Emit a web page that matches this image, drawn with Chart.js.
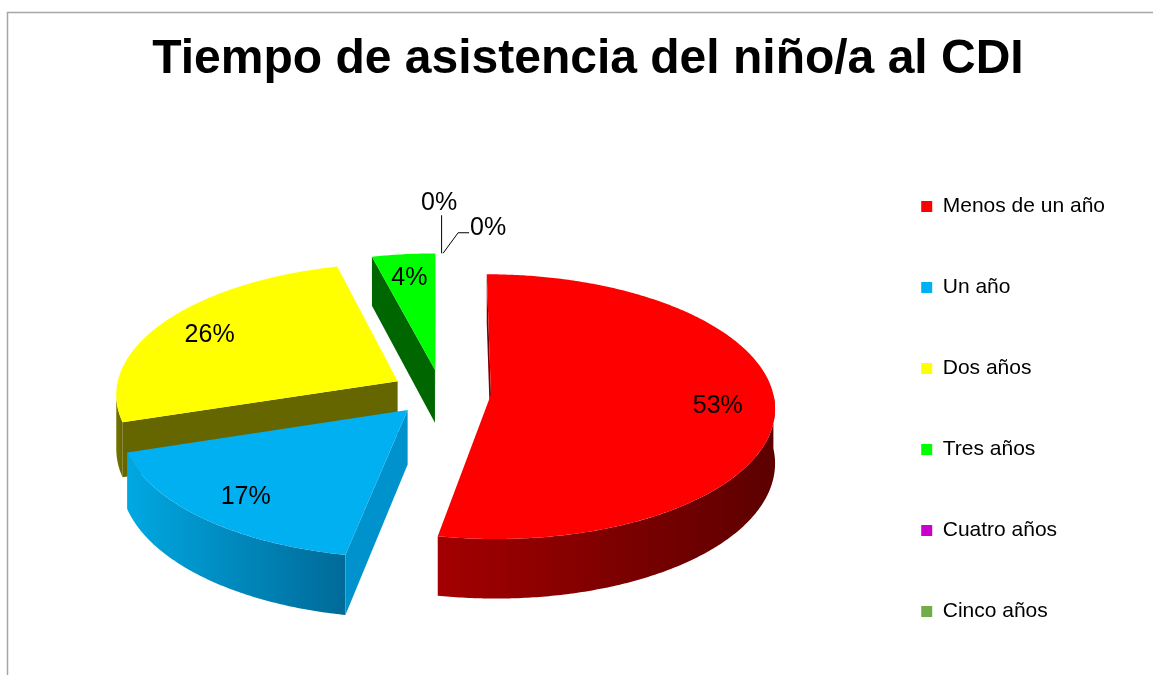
<!DOCTYPE html>
<html lang="es">
<head>
  <meta charset="UTF-8" />
  <title>Tiempo de asistencia del niño/a al CDI</title>
  <script src="https://cdn.jsdelivr.net/npm/chart.js"></script>
  <style>
    body {
      margin: 0;
      background: #ffffff;
    }
    #chart {
      display: block;
    }
  </style>
</head>
<body>

<canvas id="chart" width="1153" height="675"></canvas>

<script>
  // data
  const categories = ['Menos de un año', 'Un año', 'Dos años', 'Tres años', 'Cuatro años', 'Cinco años'];
  const percentages = [53, 17, 26, 4, 0, 0];
  const topColors = ['#ff0000', '#00b0f0', '#ffff00', '#00ff00', '#cc00cc', '#70ad47'];

  // 3d look (style only)
  const wallColors = [['#a30000', '#5c0000'], ['#00a8e2', '#006a98'], ['#747400', '#666600'], ['#007000', '#006000'], ['#800080', '#600060'], ['#4a7a2e', '#3a6022']];
  const cutColors = ['#7a0000', '#0092cc', '#666600', '#006600', '#880088', '#4a7a2e'];
  const EXPLODE = 50;     // slice explosion in plane units
  const TILT = 0.464;     // vertical squash of the pie plane
  const FOCAL = 3076;     // perspective distance
  const DEPTH = 54;       // extrusion height
  const PIE_DX = -20;     // nudge pie left of the plot-area centre
  const LABEL_R = 0.8;
  const FONT = "'Liberation Sans', Arial, sans-serif";

  function projector(chart) {
    const arcs = chart.getDatasetMeta(0).data;
    const cx = arcs[0].x + PIE_DX;
    const cy = arcs[0].y;
    return (u, v, h) => {
      const s = FOCAL / (FOCAL - v);
      return [cx + u * s, cy + (v * TILT + h) * s];
    };
  }

  function sliceGeom(arc) {
    const a0 = arc.startAngle, a1 = arc.endAngle;
    const mid = (a0 + a1) / 2;
    return {
      a0, a1, mid,
      r: arc.outerRadius,
      ou: Math.cos(mid) * EXPLODE,
      ov: Math.sin(mid) * EXPLODE
    };
  }

  function fillPoly(ctx, pts, style) {
    ctx.beginPath();
    pts.forEach((p, i) => i ? ctx.lineTo(p[0], p[1]) : ctx.moveTo(p[0], p[1]));
    ctx.closePath();
    ctx.fillStyle = style;
    ctx.fill();
  }

  const pie3d = {
    id: 'pie3d',
    beforeDraw(chart) {
      // thin grey frame like the spreadsheet chart border
      const ctx = chart.ctx;
      ctx.save();
      ctx.strokeStyle = '#a6a6a6';
      ctx.lineWidth = 1.5;
      ctx.beginPath();
      ctx.moveTo(7.5, chart.height);
      ctx.lineTo(7.5, 12.5);
      ctx.lineTo(chart.width, 12.5);
      ctx.stroke();
      ctx.restore();
    },
    beforeDatasetsDraw(chart) {
      const ctx = chart.ctx;
      const P = projector(chart);
      const arcs = chart.getDatasetMeta(0).data;
      const order = arcs.map((arc, i) => i)
        .filter(i => arcs[i].endAngle - arcs[i].startAngle > 0)
        .sort((a, b) => sliceGeom(arcs[a]).ov - sliceGeom(arcs[b]).ov);

      ctx.save();
      order.forEach(i => {
        const g = sliceGeom(arcs[i]);
        const at = (t, h, k) => P(g.ou + g.r * k * Math.cos(t), g.ov + g.r * k * Math.sin(t), h);
        const steps = t0 => Math.max(2, Math.ceil(Math.abs(t0) / 0.01));

        // outer wall, front half only
        const lo = Math.max(g.a0, 0), hi = Math.min(g.a1, Math.PI - 0.1);
        if (hi > lo) {
          const n = steps(hi - lo);
          const pts = [];
          for (let j = 0; j <= n; j++) pts.push(at(lo + (hi - lo) * j / n, 0, 1));
          for (let j = n; j >= 0; j--) pts.push(at(lo + (hi - lo) * j / n, DEPTH, 1));
          const xs = pts.map(p => p[0]);
          const grad = ctx.createLinearGradient(Math.min(...xs), 0, Math.max(...xs), 0);
          grad.addColorStop(0, wallColors[i][0]);
          grad.addColorStop(1, wallColors[i][1]);
          fillPoly(ctx, pts, grad);
        }

        // radial cut faces, when facing the viewer
        [[g.a0, g.a0 - Math.PI / 2], [g.a1, g.a1 + Math.PI / 2]].forEach(([t, n]) => {
          const pu = g.ou + g.r / 2 * Math.cos(t), pv = g.ov + g.r / 2 * Math.sin(t);
          const vis = Math.cos(n) * (0 - pu) + Math.sin(n) * (FOCAL - pv);
          if (vis <= 0) return;
          fillPoly(ctx, [at(t, 0, 0), at(t, 0, 1), at(t, DEPTH, 1), at(t, DEPTH, 0)], cutColors[i]);
        });

        // top face
        const n = steps(g.a1 - g.a0);
        const top = [at(0, 0, 0)];
        for (let j = 0; j <= n; j++) top.push(at(g.a0 + (g.a1 - g.a0) * j / n, 0, 1));
        fillPoly(ctx, top, topColors[i]);
      });
      ctx.restore();
      return false;
    },
    afterDraw(chart) {
      const ctx = chart.ctx;
      const P = projector(chart);
      const arcs = chart.getDatasetMeta(0).data;
      const values = chart.data.datasets[0].data;
      ctx.save();
      ctx.font = '25px ' + FONT;
      ctx.fillStyle = '#000';
      ctx.strokeStyle = '#000';
      ctx.lineWidth = 1;
      ctx.textBaseline = 'middle';
      let zeroCount = 0;
      arcs.forEach((arc, i) => {
        const g = sliceGeom(arc);
        const text = values[i] + '%';
        if (values[i] > 0) {
          const p = P(g.ou + g.r * LABEL_R * Math.cos(g.mid), g.ov + g.r * LABEL_R * Math.sin(g.mid), 0);
          ctx.textAlign = 'center';
          ctx.fillText(text, p[0], p[1] + 2);
          return;
        }
        // empty slices: label outside with a leader line
        const a = P(g.ou + g.r * Math.cos(g.mid), g.ov + g.r * Math.sin(g.mid), 0);
        ctx.beginPath();
        if (zeroCount === 0) {
          ctx.moveTo(a[0] + 0.5, a[1]);
          ctx.lineTo(a[0] + 0.5, a[1] - 38);
          ctx.stroke();
          ctx.textAlign = 'center';
          ctx.fillText(text, a[0] - 2, a[1] - 50);
        } else {
          ctx.moveTo(a[0] + 2, a[1]);
          ctx.lineTo(a[0] + 17, a[1] - 20.5);
          ctx.lineTo(a[0] + 28, a[1] - 20.5);
          ctx.stroke();
          ctx.textAlign = 'left';
          ctx.fillText(text, a[0] + 29, a[1] - 25);
        }
        zeroCount++;
      });
      ctx.restore();
    }
  };

  new Chart(document.getElementById('chart'), {
    type: 'pie',
    data: {
      labels: categories,
      datasets: [{
        data: percentages,
        backgroundColor: topColors,
        borderWidth: 0
      }]
    },
    options: {
      responsive: false,
      animation: false,
      radius: 282,
      layout: {
        padding: { left: 61, right: 38, top: 0, bottom: -7 }
      },
      plugins: {
        title: {
          display: true,
          text: 'Tiempo de asistencia del niño/a al CDI',
          color: '#000',
          font: { family: FONT, size: 48, weight: 'bold' },
          padding: { top: 31, bottom: 21 }
        },
        legend: {
          position: 'right',
          align: 'end',
          labels: {
            boxWidth: 11,
            boxHeight: 11,
            padding: 60,
            color: '#000',
            font: { family: FONT, size: 21 }
          }
        },
        tooltip: { enabled: false }
      }
    },
    plugins: [pie3d]
  });
</script>

</body>
</html>
